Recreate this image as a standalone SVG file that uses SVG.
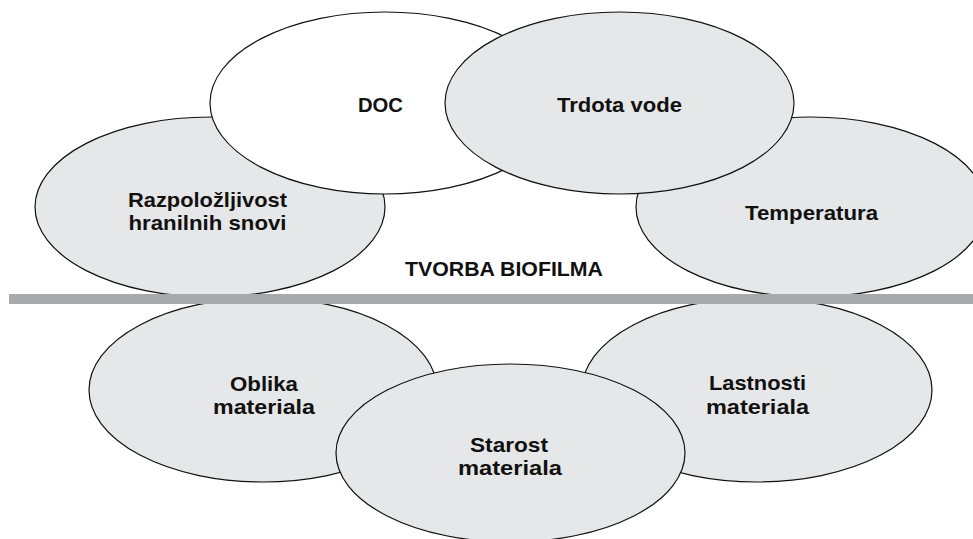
<svg xmlns="http://www.w3.org/2000/svg" width="973" height="539" viewBox="0 0 973 539">
<style>
.e{stroke:#111;stroke-width:1.2}
.g{fill:#e6e7e8}
.w{fill:#fff}
text{font-family:"Liberation Sans",Arial,sans-serif;font-weight:bold;font-size:21px;fill:#111;text-anchor:middle}
</style>
<rect width="973" height="539" fill="#fff"/>
<g id="razpolozljivost">
<ellipse class="e g" cx="210" cy="207" rx="175" ry="90"/>
<text x="207.5" y="206.5" textLength="159" lengthAdjust="spacingAndGlyphs">Razpoložljivost</text>
<text x="207.5" y="230" textLength="158" lengthAdjust="spacingAndGlyphs">hranilnih snovi</text>
</g>
<g id="doc">
<ellipse class="e w" cx="385" cy="103" rx="175" ry="91"/>
<text x="380.5" y="112" textLength="45" lengthAdjust="spacingAndGlyphs">DOC</text>
</g>
<g id="temperatura">
<ellipse class="e g" cx="811" cy="207" rx="175" ry="90"/>
<text x="811.5" y="220" textLength="133" lengthAdjust="spacingAndGlyphs">Temperatura</text>
</g>
<g id="trdota">
<ellipse class="e g" cx="619.5" cy="103" rx="174.5" ry="91"/>
<text x="619.5" y="112" textLength="125" lengthAdjust="spacingAndGlyphs">Trdota vode</text>
</g>
<g id="oblika">
<ellipse class="e g" cx="263" cy="390" rx="174" ry="92"/>
<text x="264" y="390.5" textLength="68" lengthAdjust="spacingAndGlyphs">Oblika</text>
<text x="264" y="414" textLength="102" lengthAdjust="spacingAndGlyphs">materiala</text>
</g>
<g id="lastnosti">
<ellipse class="e g" cx="757" cy="390" rx="175" ry="92"/>
<text x="757.5" y="390" textLength="97" lengthAdjust="spacingAndGlyphs">Lastnosti</text>
<text x="757.5" y="414" textLength="103" lengthAdjust="spacingAndGlyphs">materiala</text>
</g>
<g id="starost">
<ellipse class="e g" cx="510.5" cy="453" rx="174.5" ry="89"/>
<text x="509" y="451.5" textLength="78" lengthAdjust="spacingAndGlyphs">Starost</text>
<text x="510" y="475" textLength="104" lengthAdjust="spacingAndGlyphs">materiala</text>
</g>
<g id="connectors">
<rect id="bar" x="9" y="294" width="964" height="10" fill="#a7a9ac"/>
</g>
<g id="title">
<text x="504" y="275.5" textLength="198" lengthAdjust="spacingAndGlyphs">TVORBA BIOFILMA</text>
</g>
</svg>
